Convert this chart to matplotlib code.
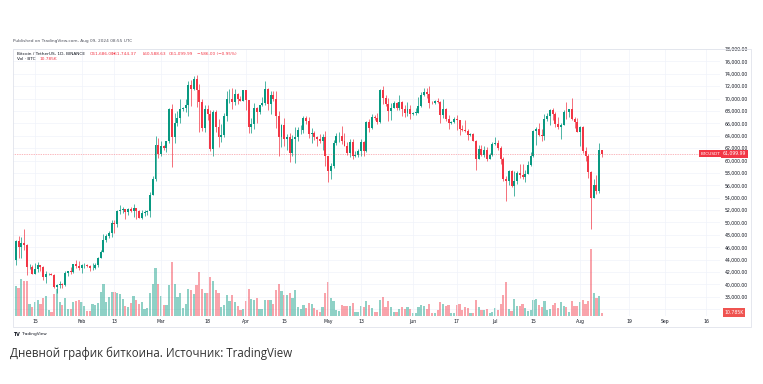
import matplotlib
matplotlib.use('Agg')
import matplotlib.pyplot as plt
import matplotlib.dates as mdates
import matplotlib.transforms as mtransforms
from matplotlib.patches import Rectangle
from matplotlib.ticker import FixedLocator, FuncFormatter
import pandas as pd

# ---- data: BTC/USDT daily candles, Jan 8 - Aug 9 2024 ----
dates = pd.date_range('2024-01-08', '2024-08-09', freq='D')

opens = [
    43940, 46970, 46120, 46660, 46340, 42780, 42840, 41730, 42510, 43140, 42770, 41260, 41620, 41660, 41570, 39510,
    39850, 40070, 39930, 41800, 42110, 42030, 43300, 42940,
    42580, 43080, 43190, 42990, 42580, 42660, 43090, 44340, 45290, 47130, 47750, 48290, 49960, 49700, 51800, 51940,
    52120, 51660, 52120, 51780, 52260, 51840, 50730, 51570, 51730, 51800, 54480, 57040, 62430,
    61130, 62390, 62030, 63130, 68240, 63780, 66070, 66830, 68300, 68500, 69020, 72120, 71480, 73100, 71390, 69500,
    65300, 68390, 67550, 61910, 67850, 65490, 63780, 64070, 67230, 69880, 69960, 69450, 70740, 69870, 69640,
    71330, 69700, 65450, 65960, 68510, 67840, 68900, 69360, 71620, 69150, 70630, 70010, 67190, 63800, 65740, 63420,
    63790, 61280, 63470, 63820, 64940, 64960, 66840, 66410, 64290, 64500, 63770, 63460, 63120, 63870,
    60670, 58250, 59120, 62890, 63890, 64030, 63160, 62330, 61190, 63070, 60790, 60820, 61480, 62940, 61580, 66270,
    65230, 67050, 66940, 66280, 71450, 70140, 69120, 67930, 68530, 69290, 68510, 69390, 68370, 67630, 68350,
    67490, 67700, 67750, 68800, 70560, 71080, 70790, 69340, 69300, 69640, 69510, 67320, 68240, 66760, 66010, 66190,
    66640, 66490, 65150, 64960, 64830, 64100, 64250, 63180, 60280, 61800, 60860, 61680, 60320, 60890,
    62680, 62770, 62020, 60170, 57030, 56660, 58230, 55850, 56710, 58040, 57720, 57340, 57890, 59200, 60790, 64720,
    65040, 64090, 63990, 66660, 67140, 68160, 67530, 65930, 65370, 65800, 67910, 67810, 68250, 66780, 66190,
    64620, 65350, 61500, 60700, 58110, 54020, 56040, 55130, 61686,
]
highs = [
    47250, 47890, 47700, 48970, 46500, 43260, 43080, 43400, 43580, 43200, 42930, 42200, 41870, 41880, 41670, 40130,
    40560, 40280, 42200, 42200, 42840, 43340, 43880, 43750,
    43290, 43490, 43380, 43120, 43540, 43400, 44390, 45610, 48200, 48170, 48590, 50330, 50370, 52040, 52820, 52580,
    52190, 52380, 52490, 52990, 52360, 52080, 51980, 51960, 51950, 54940, 57580, 64000, 63680,
    63110, 62430, 63230, 68500, 69170, 67640, 67990, 69990, 68670, 70000, 72800, 72920, 73650, 73780, 72360, 70000,
    68900, 68920, 68110, 68100, 68200, 66650, 65970, 67620, 71150, 71560, 71770, 71550, 70920, 70360, 71370,
    71340, 69710, 66900, 69290, 68720, 69000, 70330, 72800, 71760, 71170, 71250, 71230, 67930, 65840, 66870, 64360,
    64480, 64130, 65450, 65420, 65700, 67230, 67200, 67080, 65300, 64800, 63920, 64360, 64230, 64730,
    60780, 59600, 63320, 64500, 64650, 65500, 64390, 62980, 63420, 63470, 61490, 61830, 63450, 63100, 66440, 66700,
    67450, 67400, 67690, 71520, 71980, 70630, 70040, 69260, 69570, 69500, 70600, 69560, 68900, 69500, 69020,
    67860, 68440, 70280, 71060, 71760, 71630, 71990, 69580, 69840, 70150, 69560, 69990, 68450, 67320, 66400, 66980,
    67280, 66560, 65720, 66480, 65070, 64520, 64490, 63370, 62430, 62480, 62290, 62200, 61200, 63000,
    63800, 63290, 62270, 60500, 57500, 58470, 58470, 58240, 58300, 59470, 59360, 58500, 59850, 61420, 64900, 65390,
    66130, 65140, 67440, 67600, 68370, 68480, 67800, 67100, 66120, 68200, 69400, 68300, 70080, 66990, 66800,
    65600, 65600, 62200, 61120, 58300, 57040, 57720, 62750, 61744.37,
]
lows = [
    43200, 44300, 44350, 45600, 41500, 42440, 41720, 41720, 42050, 42200, 40680, 40280, 41450, 41500, 39430, 38550,
    39480, 39500, 39820, 41400, 41620, 41800, 42680, 42280,
    41880, 42580, 42880, 42220, 42260, 42570, 42790, 44330, 45240, 46800, 47550, 47720, 48300, 49300, 51330, 51580,
    50630, 51170, 51670, 50900, 50630, 50700, 50520, 50970, 51280, 50900, 54450, 56690, 60360,
    60780, 61660, 61320, 62750, 59000, 62850, 65560, 66000, 68040, 67800, 67190, 68850, 71330, 68560, 64530, 64780,
    64550, 66600, 61500, 60780, 64530, 62260, 63000, 63790, 66380, 69280, 68380, 68900, 69070, 69560, 69560,
    68100, 64500, 64490, 65090, 66000, 67450, 68820, 69040, 68200, 67520, 69570, 65250, 60660, 62130, 62300, 61710,
    59770, 60800, 59600, 63170, 64280, 64500, 65820, 63600, 62800, 63330, 62400, 62800, 61770, 59190,
    56550, 56940, 58800, 62580, 62950, 62700, 62270, 60890, 60630, 60190, 60490, 60630, 60750, 60800, 61330, 64600,
    65120, 66600, 65860, 66060, 69160, 68800, 66300, 66600, 68510, 68100, 68230, 67200, 67100, 67130, 66670,
    67390, 67300, 67610, 68560, 70380, 70120, 68500, 69130, 69100, 69230, 66050, 66900, 66300, 65060, 65880, 66060,
    65000, 64060, 64690, 64540, 63380, 63940, 63180, 58400, 60250, 60700, 60600, 60000, 60270, 60700,
    62530, 61780, 59400, 56770, 53490, 56020, 55720, 54260, 56280, 57160, 57050, 56550, 57760, 59080, 60630, 62440,
    63900, 63200, 63300, 66450, 65750, 66570, 65450, 65100, 63450, 65750, 66670, 67050, 66500, 65300, 64530,
    62300, 61160, 59850, 57120, 49000, 53960, 54560, 54720, 60588.63,
]
closes = [
    46970, 46120, 46660, 46340, 42780, 42840, 41730, 42510, 43140, 42770, 41260, 41620, 41660, 41570, 39510, 39850,
    40070, 39930, 41800, 42110, 42030, 43300, 42940, 42580,
    43080, 43190, 42990, 42580, 42660, 43090, 44340, 45290, 47130, 47750, 48290, 49960, 49700, 51800, 51940, 52120,
    51660, 52120, 51780, 52260, 51840, 50730, 51570, 51730, 51800, 54480, 57040, 62430, 61130,
    62390, 62030, 63130, 68240, 63780, 66070, 66830, 68300, 68500, 69020, 72120, 71480, 73100, 71390, 69500, 65300,
    68390, 67550, 61910, 67850, 65490, 63780, 64070, 67230, 69880, 69960, 69450, 70740, 69870, 69640, 71330,
    69700, 65450, 65960, 68510, 67840, 68900, 69360, 71620, 69150, 70630, 70010, 67190, 63800, 65740, 63420, 63790,
    61280, 63470, 63820, 64940, 64960, 66840, 66410, 64290, 64500, 63770, 63460, 63120, 63870, 60670,
    58250, 59120, 62890, 63890, 64030, 63160, 62330, 61190, 63070, 60790, 60820, 61480, 62940, 61580, 66270, 65230,
    67050, 66940, 66280, 71450, 70140, 69120, 67930, 68530, 69290, 68510, 69390, 68370, 67630, 68350, 67490,
    67700, 67750, 68800, 70560, 71080, 70790, 69340, 69300, 69640, 69510, 67320, 68240, 66760, 66010, 66190, 66640,
    66490, 65150, 64960, 64830, 64100, 64250, 63180, 60280, 61800, 60860, 61680, 60320, 60890, 62680,
    62770, 62020, 60170, 57030, 56660, 58230, 55850, 56710, 58040, 57720, 57340, 57890, 59200, 60790, 64720, 65040,
    64090, 63990, 66660, 67140, 68160, 67530, 65930, 65370, 65800, 67910, 67810, 68250, 66780, 66190, 64620,
    65350, 61500, 60700, 58110, 54020, 56040, 55130, 61690, 61099.99,
]
# volume, thousands of BTC
volumes = [
    94, 90, 116, 111, 112, 38, 27, 43, 52, 39, 57, 62, 20, 13, 70, 85, 44, 34, 58, 21, 22, 43, 48, 51,
    45, 31, 17, 17, 38, 35, 42, 75, 100, 45, 60, 75, 75, 72, 70, 55, 31, 27, 42, 64, 51, 38, 43, 21, 25, 72, 101,
    153, 101,
    62, 34, 36, 99, 172, 101, 60, 74, 26, 39, 85, 81, 69, 98, 138, 86, 73, 74, 124, 111, 83, 73, 30, 36, 65, 47,
    65, 44, 33, 20, 23,
    49, 85, 55, 52, 56, 22, 22, 52, 52, 52, 39, 81, 101, 79, 68, 68, 73, 56, 81, 29, 21, 34, 26, 40, 39, 26, 20,
    14, 30, 72,
    107, 56, 49, 20, 16, 34, 31, 33, 31, 42, 13, 13, 31, 29, 47, 35, 26, 14, 14, 51, 59, 27, 48, 27, 12, 12, 22,
    30, 22, 27, 23,
    8, 10, 27, 34, 31, 22, 39, 8, 8, 18, 43, 39, 31, 36, 10, 10, 35, 39, 20, 27, 26, 8, 10, 51, 29, 20, 18, 22, 8,
    14,
    25, 20, 39, 68, 107, 21, 17, 53, 31, 33, 38, 25, 16, 18, 51, 55, 35, 29, 47, 18, 22, 34, 42, 25, 43, 31, 29,
    13, 49, 31, 31,
    44, 51, 39, 47, 212, 73, 56, 64, 10.785,
]

tick_dates = ['2024-01-15', '2024-02-01', '2024-02-13', '2024-03-01', '2024-03-18', '2024-04-01',
              '2024-04-15', '2024-05-01', '2024-05-13', '2024-06-01', '2024-06-17', '2024-07-01',
              '2024-07-15', '2024-08-01', '2024-08-19', '2024-09-01', '2024-09-16']
tick_labels = ['15', 'Feb', '13', 'Mar', '18', 'Apr', '15', 'May', '13', 'Jun', '17', 'Jul', '15', 'Aug',
               '19', 'Sep', '16']
price_ticks = list(range(38000, 78001, 2000))   # 36,000 sits under the volume label
grid_prices = list(range(36000, 78001, 2000))

UP = '#089981'
DOWN = '#f23645'
TXT = '#131722'

W, H = 763, 384
fx = lambda px: px / W
fy = lambda py: 1 - py / H

fig = plt.figure(figsize=(W / 100, H / 100), dpi=100)
fig.patch.set_facecolor('white')

pos = [fx(13), fy(316), fx(720) - fx(13), fy(49) - fy(316)]
ax_vol = fig.add_axes(pos)
ax = fig.add_axes(pos, sharex=ax_vol)
ax.patch.set_alpha(0)

x = mdates.date2num(dates)
base = mdates.date2num(pd.Timestamp('2024-01-01'))
colors = [UP if c >= o else DOWN for o, c in zip(opens, closes)]

# horizontal grid (behind everything)
for g in grid_prices:
    ax_vol.axhline(g, color='#f0f3fa', linewidth=0.5, zorder=0)

# volume
ax_vol.bar(x, volumes, width=0.8, color=colors, alpha=0.45, linewidth=0, zorder=2)
ax_vol.set_ylim(0, 845)
ax_vol.set_yticks([])
ax_vol.tick_params(axis='x', length=0, labelbottom=False)
for s in ax_vol.spines.values():
    s.set_visible(False)

# candles
ax.vlines(x, lows, highs, colors=colors, linewidth=0.5)
bottoms = [min(o, c) for o, c in zip(opens, closes)]
heights = [max(abs(c - o), 60) for o, c in zip(opens, closes)]
ax.bar(x, heights, bottom=bottoms, width=0.72, color=colors, linewidth=0)

ax.set_xlim(base + 5.97, base + 264.1)
ax.set_ylim(34909, 77766)

ax.xaxis.set_major_locator(FixedLocator(mdates.date2num(pd.to_datetime(tick_dates))))
ax.set_xticklabels(tick_labels)
ax.yaxis.tick_right()
ax.set_yticks(price_ticks)
ax.yaxis.set_major_formatter(FuncFormatter(lambda v, p: f'{v:,.2f}'))
ax.tick_params(axis='y', length=0, pad=3.6, labelsize=3.3, labelcolor=TXT)
ax.tick_params(axis='x', length=0, pad=2.2, labelsize=3.3, labelcolor=TXT)
ax.grid(True, axis='x', color='#f0f3fa', linewidth=0.5)
ax.set_axisbelow(True)
for s in ax.spines.values():
    s.set_visible(False)
ax_vol.set_ylim(0, 845)

# horizontal grid lines are drawn in price units on the volume axes' y transform
grid_tr = mtransforms.blended_transform_factory(ax_vol.transAxes, ax.transData)
for line in ax_vol.lines:
    line.set_transform(grid_tr)

# last price line and labels
last = closes[-1]
ax.axhline(last, color=DOWN, linewidth=0.5, linestyle=(0, (1, 1.5)), alpha=0.7)
ax.annotate(f'{last:,.2f}', xy=(1, last), xycoords=('axes fraction', 'data'), xytext=(2.2, 0),
            textcoords='offset points', ha='left', va='center', fontsize=3.3, color='white',
            bbox=dict(boxstyle='square,pad=0.35', fc=DOWN, ec='none'), annotation_clip=False, zorder=10)
ax.annotate('BTCUSDT', xy=(1, last), xycoords=('axes fraction', 'data'), xytext=(0.6, 0),
            textcoords='offset points', ha='right', va='center', fontsize=3.1, color='white',
            bbox=dict(boxstyle='square,pad=0.35', fc=DOWN, ec='none'), annotation_clip=False, zorder=10)
vol_tr = mtransforms.blended_transform_factory(ax.transAxes, ax_vol.transData)
ax.annotate(f'{volumes[-1]:.3f}K', xy=(1, volumes[-1]), xycoords=vol_tr, xytext=(3.2, 0),
            textcoords='offset points', ha='left', va='center', fontsize=3.3, color='white',
            bbox=dict(boxstyle='square,pad=0.35', fc='#ef5350', ec='none'), annotation_clip=False, zorder=10)

# chart frame
fig.patches.append(Rectangle((fx(13), fy(327)), fx(751) - fx(13), fy(49) - fy(327), transform=fig.transFigure,
                             fill=False, edgecolor='#e0e3eb', linewidth=0.6))

# header / legend
fig.text(fx(13), fy(41), 'Published on TradingView.com, Aug 09, 2024 08:55 UTC', fontsize=3.1, color='#50535e',
         va='center')
fig.text(fx(17), fy(54), 'Bitcoin / TetherUS, 1D, BINANCE', fontsize=3.1, color=TXT, va='center')
ohlc = [(89.3, 'O61,686.00'), (111.7, 'H61,744.37'), (142.7, 'L60,588.63'), (169, 'C61,099.99'),
        (197.3, '\u2212586.00 (\u22120.95%)')]
for px, s in ohlc:
    fig.text(fx(px), fy(54), s, fontsize=3.1, color=DOWN, va='center')
fig.text(fx(17), fy(59.5), 'Vol \u00b7 BTC', fontsize=3.1, color=TXT, va='center')
fig.text(fx(39), fy(59.5), '10.785K', fontsize=3.1, color=DOWN, va='center')

# TradingView logo line
fig.text(fx(13), fy(334), 'TV', fontsize=3.4, color=TXT, va='center', fontweight='bold')
fig.text(fx(21.5), fy(334), 'TradingView', fontsize=3.1, color=TXT, va='center')

# caption
fig.text(fx(10), fy(353), 'Дневной график биткоина. Источник: TradingView', fontsize=8.3,
         family=['Open Sans', 'DejaVu Sans'], color='#333333', va='center')

fig.savefig('out.png', dpi=100, facecolor='white')
